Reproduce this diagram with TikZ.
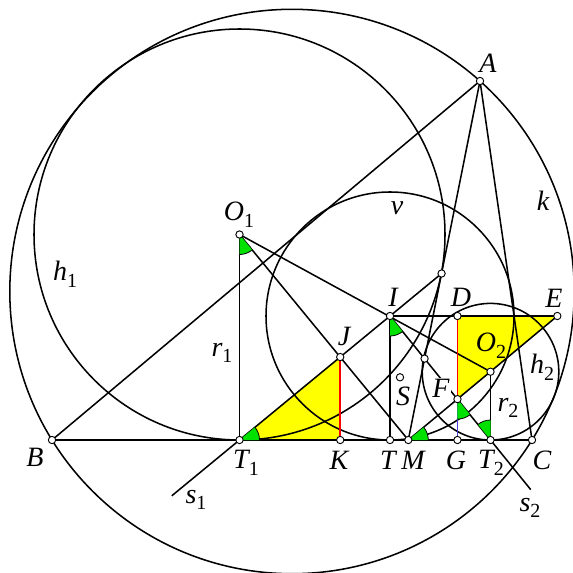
\documentclass[tikz,border=0pt]{standalone}
\usepackage{fontspec}
\setmainfont{Liberation Serif}
\usetikzlibrary{calc,angles}
\newcommand\lt[1]{{\fontsize{21}{23}\selectfont\itshape #1}}
\newcommand\lsub[2]{{\fontsize{21}{23}\selectfont\itshape #1}\raisebox{-5pt}{\fontsize{15}{16}\selectfont\upshape #2}}
\definecolor{wedgegreen}{RGB}{0,225,0}
\definecolor{fillyellow}{RGB}{255,255,0}
\definecolor{segblue}{RGB}{70,60,220}
\begin{document}
\begin{tikzpicture}[x=0.75pt,y=0.75pt,line width=1.15pt,
  dot/.style={circle,draw=black,fill=white,line width=0.7pt,inner sep=0pt,minimum size=5.5pt},
  lbl/.style={inner sep=0pt},
  wedge/.style={draw=black,fill=wedgegreen,line width=0.6pt,angle radius=15pt}]
\useasboundingbox (0,0) rectangle (573,572);
\clip (0,0) rectangle (573,572);
% main points
\coordinate (A) at (480,491);
\coordinate (B) at (52,132);
\coordinate (C) at (532,132);
\coordinate (O1) at (239.5,337.5);
\coordinate (T1) at (239.5,132);
\coordinate (I) at (390,256);
\coordinate (M) at (408.3,132);
\coordinate (O2) at (490.5,200.3);
\coordinate (E) at (557.3,256);
\coordinate (S) at (400,194.7);
\coordinate (T) at (I |- B);
\coordinate (T2) at (O2 |- B);
\coordinate (P1) at (intersection of T1--I and A--M);
\coordinate (P2) at (intersection of I--T2 and A--M);
\coordinate (J) at (intersection of T1--I and O1--M);
\coordinate (K) at (J |- B);
\coordinate (F) at (intersection of I--T2 and M--E);
\coordinate (D) at (F |- I);
\coordinate (G) at (F |- B);
\coordinate (s1end) at ($(T1)!-0.45!(I)$);
\coordinate (s2end) at ($(I)!1.4!(T2)$);
\coordinate (kc) at (292,280.5);
% yellow triangles
\fill[fillyellow] (T1) -- (K) -- (J) -- cycle;
\fill[fillyellow] (D) -- (E) -- (F) -- cycle;
% circles
\draw (kc) circle[radius=282.2];
\draw (O1) circle[radius=205.5];
\draw (O2) circle[radius=68.3];
\draw (I) circle[radius=124];
% lines
\draw (B) -- (C);
\draw (B) -- (A) -- (C);
\draw (A) -- (M);
\draw (O1) -- (T1);
\draw (I) -- (T);
\draw (O2) -- (T2);
\draw (s1end) -- (P1);
\draw (I) -- (s2end);
\draw (O1) -- (O2);
\draw (O1) -- (M);
\draw (M) -- (E);
\draw (I) -- (E);
\draw[red,line width=1.4pt] (J) -- (K);
\draw[red,line width=1.4pt] (D) -- (F);
\draw[segblue,line width=1.4pt] (F) -- (G);
% angle wedges
\pic[wedge] {angle=T1--O1--M};
\pic[wedge] {angle=K--T1--J};
\pic[wedge] {angle=T--I--T2};
\pic[wedge] {angle=T2--M--E};
\pic[wedge] {angle=G--F--T2};
\pic[wedge] {angle=O2--T2--I};
% dots
\foreach \p in {A,B,C,O1,T1,I,M,O2,E,S,T,T2,P1,P2,J,K,F,D,G}
  \node[dot] (d\p) at (\p) {};
% labels
\node[lbl] (lA) at (488,509) {\lt{A}};
\node[lbl] (lB) at (35,115) {\lt{B}};
\node[lbl] (lC) at (542,112) {\lt{C}};
\node[lbl] (lT1) at (246,109) {\lsub{T}{1}};
\node[lbl] (lK) at (339,112) {\lt{K}};
\node[lbl] (lT) at (388,112) {\lt{T}};
\node[lbl] (lM) at (413,112) {\lt{M}};
\node[lbl] (lG) at (456,112) {\lt{G}};
\node[lbl] (lT2) at (491,109) {\lsub{T}{2}};
\node[lbl] (ls1) at (196,72) {\lsub{s}{1}};
\node[lbl] (ls2) at (530,64) {\lsub{s}{2}};
\node[lbl] (lJ) at (344,236) {\lt{J}};
\node[lbl] (lI) at (393,275) {\lt{I}};
\node[lbl] (lD) at (461,275) {\lt{D}};
\node[lbl] (lE) at (554,274) {\lt{E}};
\node[lbl] (lO2) at (491,226) {\lsub{O}{2}};
\node[lbl] (lh2) at (542,205) {\lsub{h}{2}};
\node[lbl] (lr2) at (508,164) {\lsub{r}{2}};
\node[lbl,fill=white,inner sep=1pt] (lF) at (441,184) {\lt{F}};
\node[lbl] (lS) at (403,176) {\lt{S}};
\node[lbl] (lr1) at (222,219) {\lsub{r}{1}};
\node[lbl] (lh1) at (65,298) {\lsub{h}{1}};
\node[lbl] (lO1) at (239,357) {\lsub{O}{1}};
\node[lbl] (lv) at (397,364) {\lt{v}};
\node[lbl] (lk) at (543,371) {\lt{k}};
\end{tikzpicture}
\end{document}
